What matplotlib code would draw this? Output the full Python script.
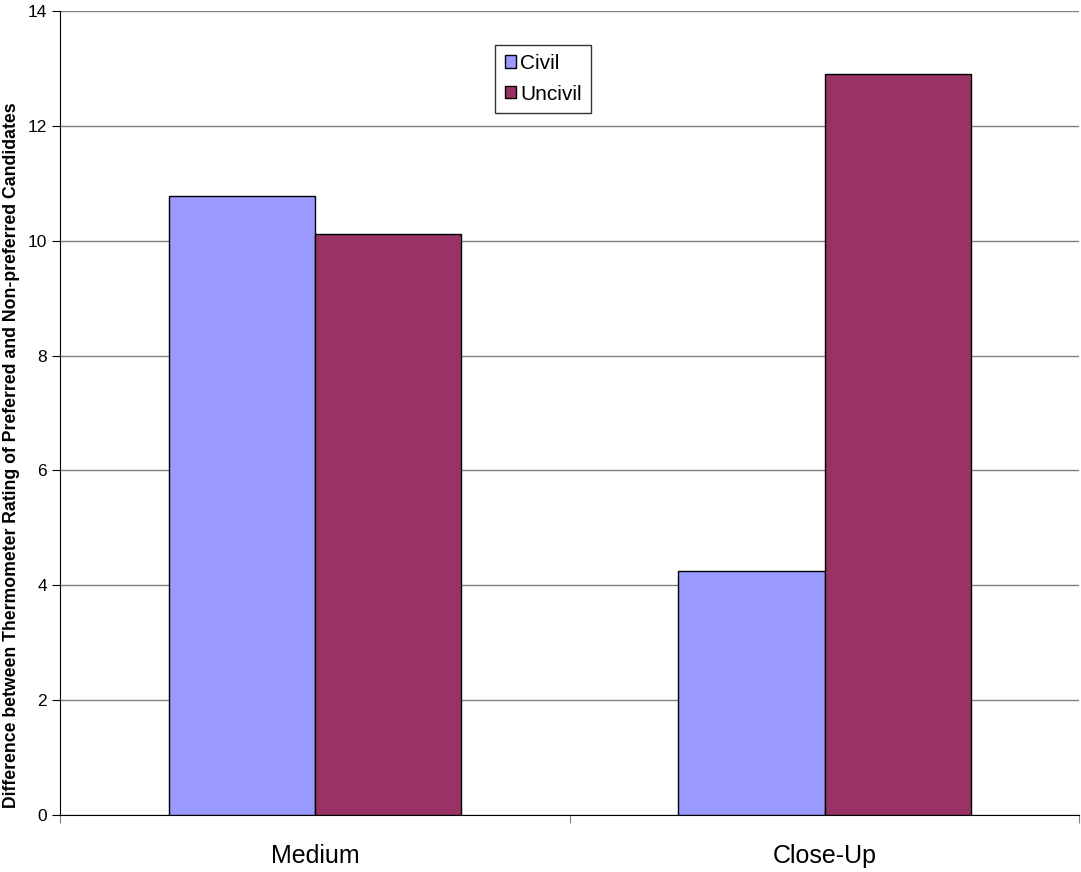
import numpy as np
import matplotlib.pyplot as plt

plt.rcParams['font.family'] = ['Liberation Sans', 'DejaVu Sans']

categories = ['Medium', 'Close-Up']
civil = [10.78, 4.25]
uncivil = [10.12, 12.9]
series_names = ['Civil', 'Uncivil']
colors = ['#9999FF', '#993366']

fig = plt.figure(figsize=(10.81, 8.72), dpi=100)
ax = fig.add_axes([0.0555, 0.0654, 0.943, 0.922])

x = np.arange(len(categories))
w = 0.287
ax.bar(x - w / 2, civil, w, color=colors[0], edgecolor='black', linewidth=1, label=series_names[0], zorder=3)
ax.bar(x + w / 2, uncivil, w, color=colors[1], edgecolor='black', linewidth=1, label=series_names[1], zorder=3)

ax.set_xlim(-0.5, 1.5)
ax.set_ylim(0, 14)
ax.set_yticks(np.arange(0, 15, 2))
ax.yaxis.grid(True, color='#808080', linewidth=1, zorder=0)
ax.set_axisbelow(True)

# category labels between boundary ticks
ax.set_xticks([-0.5, 0.5, 1.5])
ax.set_xticklabels([])
ax.set_xticks(x, minor=True)
ax.set_xticklabels(categories, minor=True, fontsize=18)
ax.tick_params(axis='x', which='minor', length=0, pad=21)
ax.tick_params(axis='x', which='major', length=6, color='#808080')
ax.tick_params(axis='y', length=6, labelsize=12.5, color='black')

for s in ['top', 'right']:
    ax.spines[s].set_visible(False)
ax.spines['left'].set_color('black')
ax.spines['bottom'].set_color('black')

ax.set_ylabel('Difference between Thermometer Rating of Preferred and Non-preferred Candidates',
              fontsize=12.7, fontweight='bold')
ax.yaxis.set_label_coords(-0.039, 0.448)

leg = ax.legend(loc='upper left', bbox_to_anchor=(0.427, 0.958), fontsize=15, frameon=True,
                fancybox=False, edgecolor='black', handlelength=0.55, handleheight=0.55,
                handletextpad=0.2, borderpad=0.45, labelspacing=0.55, borderaxespad=0)
leg.get_frame().set_linewidth(1)

fig.savefig('out.png', dpi=100)
